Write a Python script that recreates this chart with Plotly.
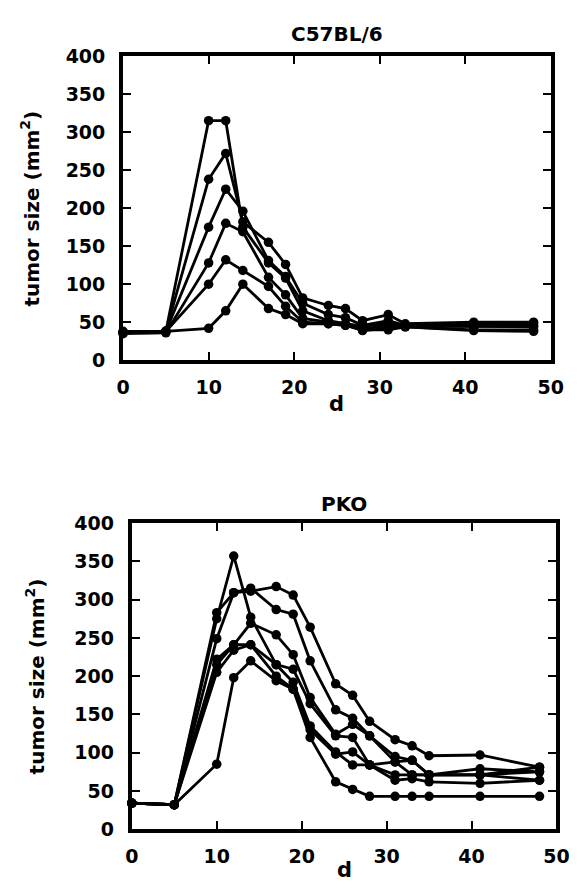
import plotly.graph_objects as go

# ---- Data: C57BL/6 (top panel) ----
days_c57 = [0, 5, 10, 12, 14, 17, 19, 21, 24, 26, 28, 31, 33, 41, 48]
c57_m1 = [36, 38, 315, 315, 175, 128, 108, 65, 52, 48, 45, 48, 45, 45, 45]
c57_m2 = [38, 38, 238, 272, 182, 155, 126, 82, 72, 68, 52, 60, 48, 50, 50]
c57_m3 = [36, 38, 175, 225, 196, 131, 110, 75, 60, 56, 46, 52, 46, 48, 48]
c57_m4 = [35, 36, 128, 180, 169, 109, 86, 55, 50, 48, 42, 45, 45, 44, 44]
c57_m5 = [37, 38, 100, 132, 118, 97, 71, 50, 48, 46, 40, 40, 44, 40, 40]
c57_m6 = [36, 38, 42, 65, 100, 68, 60, 48, 48, 46, 39, 42, 44, 39, 38]

# ---- Data: PKO (bottom panel) ----
days_pko = [0, 5, 10, 12, 14, 17, 19, 21, 24, 26, 28, 31, 33, 35, 41, 48]
pko_m1 = [34, 32, 249, 309, 311, 317, 306, 264, 190, 175, 141, 117, 109, 96, 97, 81]
pko_m2 = [34, 32, 283, 309, 315, 287, 281, 220, 156, 145, 122, 95, 90, 71, 71, 81]
pko_m3 = [34, 32, 215, 241, 269, 254, 228, 172, 124, 137, 122, 88, 90, 71, 79, 75]
pko_m4 = [34, 32, 275, 357, 277, 215, 209, 164, 122, 120, 84, 88, 71, 71, 71, 75]
pko_m5 = [34, 32, 205, 234, 241, 215, 192, 135, 101, 84, 84, 64, 66, 62, 60, 64]
pko_m6 = [34, 32, 222, 241, 241, 200, 183, 130, 98, 101, 84, 71, 71, 71, 71, 64]
pko_m7 = [34, 32, 85, 198, 220, 194, 183, 120, 62, 52, 43, 43, 43, 43, 43, 43]

titles = ["C57BL/6", "PKO"]
x_ticks = [0, 10, 20, 30, 40, 50]
y_ticks = [0, 50, 100, 150, 200, 250, 300, 350, 400]
x_label = "d"
y_label = "tumor size (mm<sup>2</sup>)"

# page body has an 8px default margin; figure is placed at (8, 8)
OFF = 8
W, H = 575, 880
FONT = "DejaVu Sans"

fig = go.Figure()

def add_series(xs, ys, xa, ya):
    fig.add_trace(go.Scatter(
        x=xs, y=ys, xaxis=xa, yaxis=ya, mode="lines+markers",
        line=dict(color="black", width=2.8),
        marker=dict(color="black", size=9.5),
        cliponaxis=False, showlegend=False, hoverinfo="x+y"))

for s in [c57_m1, c57_m2, c57_m3, c57_m4, c57_m5, c57_m6]:
    add_series(days_c57, s, "x", "y")
for s in [pko_m1, pko_m2, pko_m3, pko_m4, pko_m5, pko_m6, pko_m7]:
    add_series(days_pko, s, "x2", "y2")

# window pixel -> paper fraction
def px_x(p):
    return (p - OFF) / W

def px_y(p):
    return 1 - (p - OFF) / H

axis_common = dict(
    showline=True, linewidth=4, linecolor="black", mirror="ticks",
    ticks="inside", ticklen=8, tickwidth=1.5, tickcolor="black",
    showgrid=False, zeroline=False,
    tickfont=dict(family=FONT, size=19, color="black", weight="bold"),
)

# panel boxes in window pixels: (left, right, top, bottom)
boxes = [(120, 563, 46, 358), (129, 569, 525, 839)]

layout_axes = {}
for i, (l, r, t, b) in enumerate(boxes):
    sfx = "" if i == 0 else str(i + 1)
    layout_axes["xaxis" + sfx] = dict(
        axis_common, domain=[px_x(l), px_x(r)], range=[0, 50],
        tickvals=x_ticks, anchor="y" + sfx, ticklabelstandoff=7)
    layout_axes["yaxis" + sfx] = dict(
        axis_common, domain=[px_y(b), px_y(t)], range=[0, 400],
        tickvals=y_ticks, anchor="x" + sfx, ticklabelstandoff=10)

annotations = []
title_y = [23, 505]
xlab_y = [403, 881]
ylab_x = [24, 29]
for i, (l, r, t, b) in enumerate(boxes):
    cx = (l + r) / 2
    annotations.append(dict(
        text=titles[i], x=px_x(cx), y=px_y(title_y[i]), xref="paper", yref="paper",
        showarrow=False, xanchor="center", yanchor="middle",
        font=dict(family=FONT, size=20, color="black", weight="bold")))
    annotations.append(dict(
        text=x_label, x=px_x(cx), y=px_y(xlab_y[i]), xref="paper", yref="paper",
        showarrow=False, xanchor="center", yanchor="middle",
        font=dict(family=FONT, size=21, color="black", weight="bold")))
    annotations.append(dict(
        text=y_label, x=px_x(ylab_x[i]), y=px_y((t + b) / 2), xref="paper", yref="paper",
        showarrow=False, xanchor="center", yanchor="middle", textangle=-90,
        font=dict(family=FONT, size=20, color="black", weight="bold")))

fig.update_layout(
    width=W, height=H, margin=dict(l=0, r=0, t=0, b=0),
    paper_bgcolor="white", plot_bgcolor="white",
    annotations=annotations, **layout_axes)

fig.write_html("out.html")
